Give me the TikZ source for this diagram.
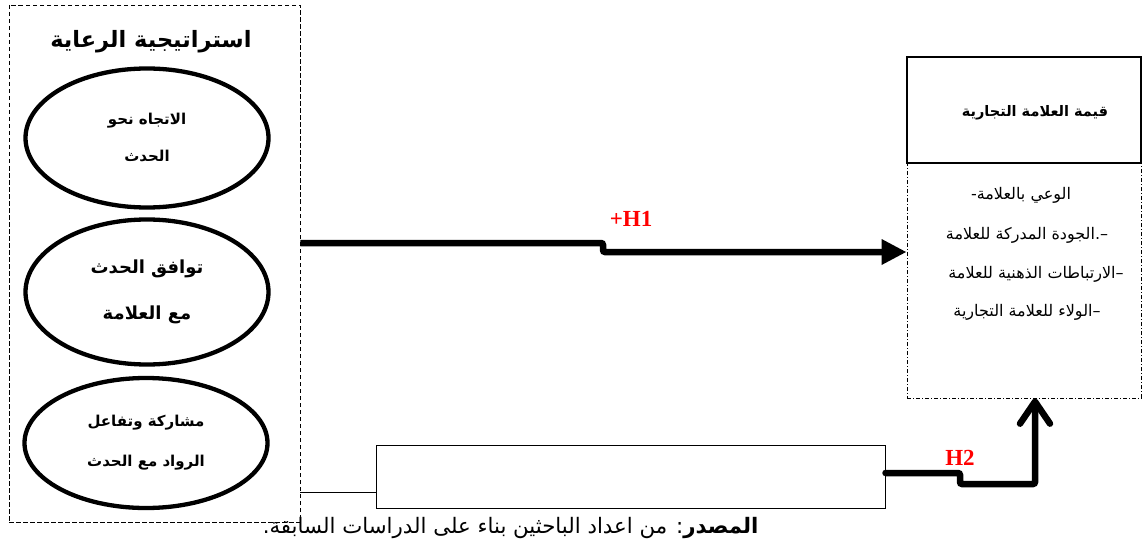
\documentclass[tikz,border=0pt]{standalone}
\usepackage{fontspec}
\usetikzlibrary{shapes.geometric,arrows.meta}
\TeXXeTstate=1
\newfontfamily\arb[Script=Arabic]{DejaVu Sans}
\newfontfamily\tnr{Liberation Serif}
\tikzset{
  ell/.style={ellipse, draw, line width=4.3pt, minimum width=243pt, align=center, inner sep=0pt},
  hyp/.style={line width=6.5pt, rounded corners=2pt},
  hlab/.style={text=red, font=\tnr\bfseries\fontsize{23}{25}\selectfont},
  item/.style={font=\arb\fontsize{16}{18}\selectfont}
}
\begin{document}
\begin{tikzpicture}[x=1pt,y=-1pt]
\useasboundingbox (0,0) rectangle (1142,548);
% left dashed box
\node[draw, dash pattern=on 4.5pt off 2.5pt, line width=0.8pt, minimum width=291pt, minimum height=517pt, inner sep=0pt] (strat) at (154.5,263.5) {};
\node[font=\arb\bfseries\fontsize{22.5}{26}\selectfont] (title) at (151,42) {\beginR استراتيجية  الرعاية\endR};
\node[ell, minimum height=139pt, font=\arb\bfseries\fontsize{15}{37}\selectfont] (e1) at (147,138) {\beginR الاتجاه نحو\endR\\\beginR الحدث\endR};
\node[ell, minimum height=145pt, font=\arb\bfseries\fontsize{18}{46}\selectfont] (e2) at (147,292) {\beginR توافق الحدث\endR\\\beginR مع العلامة\endR};
\node[ell, minimum height=130pt, font=\arb\bfseries\fontsize{15}{40}\selectfont] (e3) at (146,443) {\beginR مشاركة وتفاعل\endR\\\beginR الرواد مع الحدث\endR};
% right boxes
\node[draw, line width=1.2pt, minimum width=234pt, minimum height=106pt, inner sep=0pt] (bv) at (1024,110) {};
\node[font=\arb\bfseries\fontsize{14.5}{16}\selectfont] (bvt) at (1035,113) {\beginR قيمة العلامة التجارية\endR};
\node[draw, dash pattern=on 4pt off 2pt on 1pt off 2pt, line width=0.8pt, minimum width=234pt, minimum height=235pt, inner sep=0pt] (dims) at (1024,280.5) {};
\node[item] (d1) at (1021,195) {-\beginR الوعي بالعلامة\endR};
\node[item] (d2) at (1027,235) {\beginR الجودة المدركة للعلامة\endR–.};
\node[item] (d3) at (1036,274) {\beginR الارتباطات الذهنية للعلامة\endR–};
\node[item] (d4) at (1027,312) {\beginR الولاء للعلامة التجارية\endR–};
% moderator box
\node[draw, line width=1pt, minimum width=509pt, minimum height=63pt, inner sep=0pt] (mod) at (630.5,476.5) {};
% connectors
\coordinate (h1s) at (strat.east |- 0,243);
\coordinate (h1e) at (dims.west |- 0,252);
\draw[hyp, -{Triangle[length=25pt,width=24pt]}] (h1s) -- (603,243) -- (603,252) -- (h1e);
\node[hlab] (h1) at (631,219) {+H1};
\coordinate (ms) at (strat.east |- 0,492);
\draw[line width=1pt] (ms) -- (mod.west |- ms);
\coordinate (h2s) at (mod.east |- 0,473);
\coordinate (h2e) at (dims.south -| 1035,0);
\draw[hyp, line cap=round, -{Straight Barb[length=22pt,width=30pt,line cap=round,round]}] (h2s) -- (960,473) -- (960,484) -- (1035,484) -- (h2e);
\node[hlab] (h2) at (960,458) {H2};
% source line
\node[anchor=east, font=\arb\fontsize{21.3}{24}\selectfont] (src) at (762,528) {\beginR{\bfseries المصدر}: من اعداد الباحثين بناء على الدراسات السابقة.\endR};
\end{tikzpicture}
\end{document}
